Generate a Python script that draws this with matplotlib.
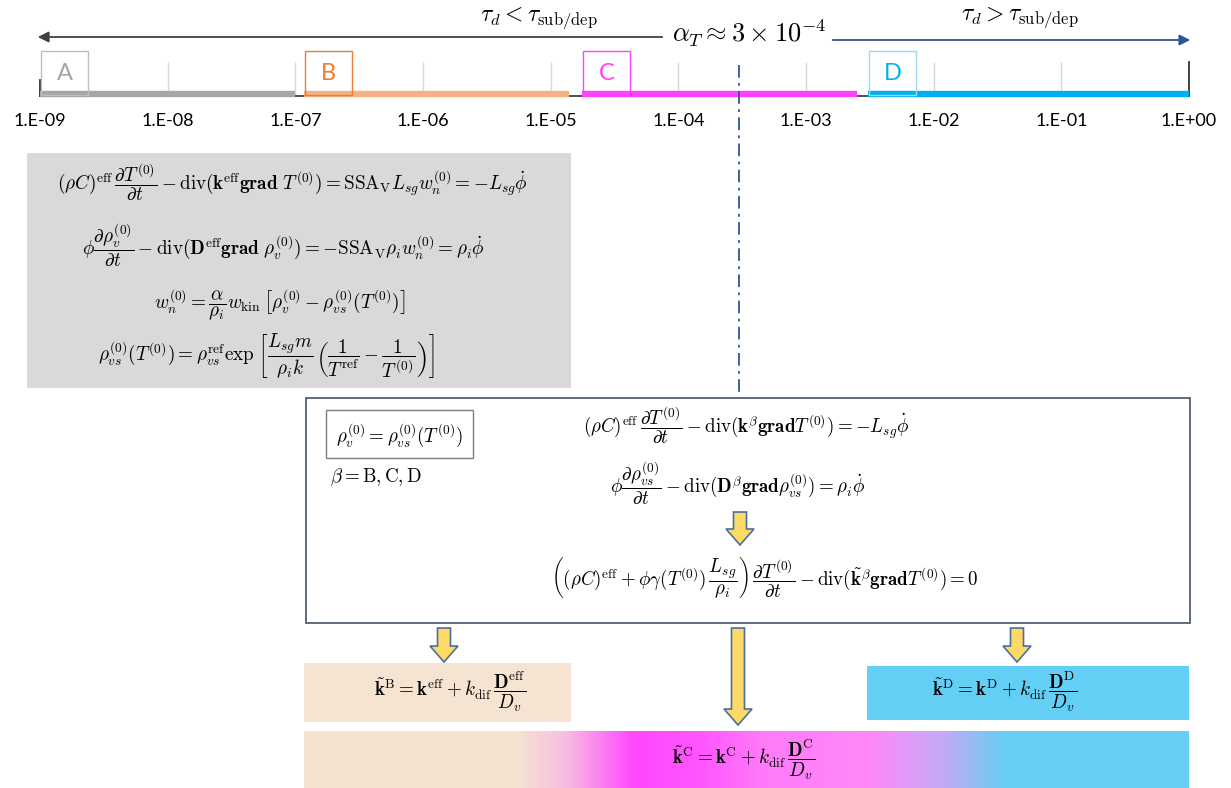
import numpy as np
import matplotlib
matplotlib.use("Agg")
import matplotlib.pyplot as plt
from matplotlib.patches import Rectangle, FancyArrow
from matplotlib.colors import LinearSegmentedColormap, to_rgb

plt.rcParams['mathtext.fontset'] = 'cm'
plt.rcParams['font.family'] = ['Lato', 'DejaVu Sans']

# ---------------- data ----------------
tick_values = [1e-9, 1e-8, 1e-7, 1e-6, 1e-5, 1e-4, 1e-3, 1e-2, 1e-1, 1e0]
tick_labels = ['1.E-09', '1.E-08', '1.E-07', '1.E-06', '1.E-05',
               '1.E-04', '1.E-03', '1.E-02', '1.E-01', '1.E+00']
regime_names = ['A', 'B', 'C', 'D']
regime_start = [1.0e-9, 1.17e-7, 1.76e-5, 3.05e-3]
regime_end = [1.0e-7, 1.4e-5, 2.5e-3, 1.0e0]
regime_colors = ['#a6a6a6', '#f4b183', '#ff40ff', '#00b0f0']
regime_box_edge = ['#bfbfbf', '#ed7d31', '#ff40ff', '#9dd8f0']
regime_text_col = ['#a6a6a6', '#ed7d31', '#ff40ff', '#00b0f0']
alpha_T = 3e-4

W, H = 1231, 788
fig = plt.figure(figsize=(W / 100, H / 100), dpi=100)
fig.patch.set_facecolor('white')

# overlay axes in pixel coordinates
ax = fig.add_axes([0, 0, 1, 1])
ax.set_xlim(0, W)
ax.set_ylim(H, 0)
ax.axis('off')

# ---------------- timeline (log axis) ----------------
x0, x1 = 40, 1189
tl = fig.add_axes([x0 / W, (H - 95) / H, (x1 - x0) / W, 50 / H], zorder=5)
tl.set_xscale('log')
tl.set_xlim(tick_values[0], tick_values[-1])
tl.set_ylim(95, 45)
tl.patch.set_alpha(0)
for s in tl.spines.values():
    s.set_visible(False)
tl.set_yticks([])
tl.set_xticks(tick_values)
tl.set_xticklabels(tick_labels, fontsize=13, color='black')
tl.xaxis.set_minor_locator(matplotlib.ticker.NullLocator())
tl.tick_params(axis='x', length=0, pad=13)

# grid lines
tl.vlines(tick_values[1:-1], 62, 95, color='#d9d9d9', lw=1, zorder=1)
# base line and end marks
tl.plot([tick_values[0], tick_values[-1]], [95.5, 95.5], color='#333333', lw=1.2, zorder=2, clip_on=False)
tl.plot([tick_values[0]] * 2, [80, 96], color='#333333', lw=1.3, clip_on=False)
tl.plot([tick_values[-1]] * 2, [62, 96], color='#333333', lw=1.3, clip_on=False)

box_decades = 47 / ((x1 - x0) / 9)
for name, s, e, c, ec, tc in zip(regime_names, regime_start, regime_end,
                                 regime_colors, regime_box_edge, regime_text_col):
    tl.plot([s, e], [93.5, 93.5], color=c, lw=4.6, solid_capstyle='butt', zorder=3, clip_on=False)
    xs = s * 1.02
    xe = xs * 10 ** box_decades
    tl.add_patch(Rectangle((xs, 51), xe - xs, 44, fill=False, edgecolor=ec, lw=1.0,
                           zorder=4, clip_on=False))
    tl.text(np.sqrt(xs * xe), 74, name, color=tc, fontsize=17, ha='center', va='center',
            zorder=4, clip_on=False)

# alpha_T dash-dot line
tl.plot([alpha_T, alpha_T], [65, 398], color='#2f5597', lw=1.3,
        linestyle=(0, (7, 3, 1.5, 3)), zorder=6, clip_on=False)

# ---------------- top arrows and labels ----------------
ax.annotate('', xy=(35, 37), xytext=(665, 37),
            arrowprops=dict(arrowstyle='-|>', color='#404040', lw=1.3, mutation_scale=16))
ax.annotate('', xy=(1193, 40), xytext=(830, 40),
            arrowprops=dict(arrowstyle='-|>', color='#2f5597', lw=1.3, mutation_scale=16))
ax.text(539, 18, r'$\tau_d < \tau_{\mathrm{sub/dep}}$', fontsize=17, ha='center', va='center')
ax.text(1020, 18, r'$\tau_d > \tau_{\mathrm{sub/dep}}$', fontsize=17, ha='center', va='center')
ax.text(749, 33, r'$\alpha_T \approx 3\times 10^{-4}$', fontsize=19, ha='center', va='center')

# ---------------- gray box (regime A) ----------------
ax.add_patch(Rectangle((27, 153), 544, 235, facecolor='#d9d9d9', edgecolor='none'))
fsA = 13.8
ax.text(292, 182, r'$(\rho C)^{\mathrm{eff}}\,\dfrac{\partial T^{(0)}}{\partial t} - \mathrm{div}(\mathbf{k}^{\mathrm{eff}}\mathbf{grad}\ T^{(0)}) = \mathrm{SSA}_{\mathrm{V}}L_{sg}w_n^{(0)} = -L_{sg}\dot{\phi}$',
        fontsize=fsA, ha='center', va='center')
ax.text(283, 245, r'$\phi\dfrac{\partial \rho_v^{(0)}}{\partial t} - \mathrm{div}(\mathbf{D}^{\mathrm{eff}}\mathbf{grad}\ \rho_v^{(0)}) = -\mathrm{SSA}_{\mathrm{V}}\rho_i w_n^{(0)} = \rho_i\dot{\phi}$',
        fontsize=fsA, ha='center', va='center')
ax.text(280, 305, r'$w_n^{(0)} = \dfrac{\alpha}{\rho_i}w_{\mathrm{kin}}\,\left[\rho_v^{(0)} - \rho_{vs}^{(0)}(T^{(0)})\right]$',
        fontsize=fsA, ha='center', va='center')
ax.text(266, 356, r'$\rho_{vs}^{(0)}(T^{(0)}) = \rho_{vs}^{\mathrm{ref}}\exp\,\left[\dfrac{L_{sg}m}{\rho_i k}\,\left(\dfrac{1}{T^{\mathrm{ref}}} - \dfrac{1}{T^{(0)}}\right)\right]$',
        fontsize=fsA, ha='center', va='center')

# ---------------- right box (regimes B, C, D) ----------------
ax.add_patch(Rectangle((306, 398), 884, 225, facecolor='white', edgecolor='#44546a', lw=1.2))
ax.add_patch(Rectangle((326, 410), 147, 48, facecolor='white', edgecolor='#7f7f7f', lw=1.0))
fsB = 13.7
ax.text(400, 435, r'$\rho_v^{(0)} = \rho_{vs}^{(0)}(T^{(0)})$', fontsize=fsB, ha='center', va='center')
ax.text(330, 477, r'$\beta = \mathrm{B, C, D}$', fontsize=fsB, ha='left', va='center')
ax.text(746, 425, r'$(\rho C)^{\mathrm{eff}}\,\dfrac{\partial T^{(0)}}{\partial t} - \mathrm{div}(\mathbf{k}^{\beta}\mathbf{grad}T^{(0)}) = -L_{sg}\dot{\phi}$',
        fontsize=fsB, ha='center', va='center')
ax.text(738, 483, r'$\phi\dfrac{\partial \rho_{vs}^{(0)}}{\partial t} - \mathrm{div}(\mathbf{D}^{\beta}\mathbf{grad}\rho_{vs}^{(0)}) = \rho_i\dot{\phi}$',
        fontsize=fsB, ha='center', va='center')
ax.text(765, 577, r'$\left((\rho C)^{\mathrm{eff}} + \phi\gamma(T^{(0)})\,\dfrac{L_{sg}}{\rho_i}\right)\,\dfrac{\partial T^{(0)}}{\partial t} - \mathrm{div}(\tilde{\mathbf{k}}^{\beta}\mathbf{grad}T^{(0)}) = 0$',
        fontsize=fsB, ha='center', va='center')


def block_arrow(x, ytop, ytip, shaft=13, head=28, head_len=16):
    ax.add_patch(FancyArrow(x, ytop, 0, ytip - ytop, width=shaft, head_width=head,
                            head_length=head_len, length_includes_head=True,
                            facecolor='#ffd966', edgecolor='#4a6fa5', lw=1.2, zorder=4))


block_arrow(740, 512, 545)
block_arrow(444, 628, 662)
block_arrow(738, 628, 725)
block_arrow(1017, 628, 662)

# ---------------- bottom boxes ----------------
ax.add_patch(Rectangle((304, 663), 267, 59, facecolor='#f6e4d3', edgecolor='none'))
ax.add_patch(Rectangle((867, 666), 322, 54, facecolor='#63cff5', edgecolor='none'))
ax.text(450, 692, r'$\tilde{\mathbf{k}}^{\mathrm{B}} = \mathbf{k}^{\mathrm{eff}} + k_{\mathrm{dif}}\,\dfrac{\mathbf{D}^{\mathrm{eff}}}{D_v}$',
        fontsize=fsB, ha='center', va='center')
ax.text(1005, 692, r'$\tilde{\mathbf{k}}^{\mathrm{D}} = \mathbf{k}^{\mathrm{D}} + k_{\mathrm{dif}}\,\dfrac{\mathbf{D}^{\mathrm{D}}}{D_v}$',
        fontsize=fsB, ha='center', va='center')

# gradient bar
gx0, gx1 = 304, 1189
stops = [(304, '#f5e3d0'), (517, '#f5e3d0'), (565, '#f8bde2'), (633, '#ff48ff'),
         (700, '#ff55ff'), (760, '#ff7af8'), (870, '#ff88fa'), (940, '#c8a8f5'),
         (1007, '#66cff3'), (1189, '#66cff3')]
cm = LinearSegmentedColormap.from_list('grad', [((p - gx0) / (gx1 - gx0), to_rgb(c)) for p, c in stops])
grad = np.linspace(0, 1, 1024)[None, :]
ax.imshow(grad, cmap=cm, aspect='auto', extent=[gx0, gx1, 788, 731], zorder=1, interpolation='bilinear')
ax.set_xlim(0, W)
ax.set_ylim(H, 0)
ax.text(744, 760, r'$\tilde{\mathbf{k}}^{\mathrm{C}} = \mathbf{k}^{\mathrm{C}} + k_{\mathrm{dif}}\,\dfrac{\mathbf{D}^{\mathrm{C}}}{D_v}$',
        fontsize=fsB, ha='center', va='center', zorder=3)

fig.savefig('out.png', dpi=100)
